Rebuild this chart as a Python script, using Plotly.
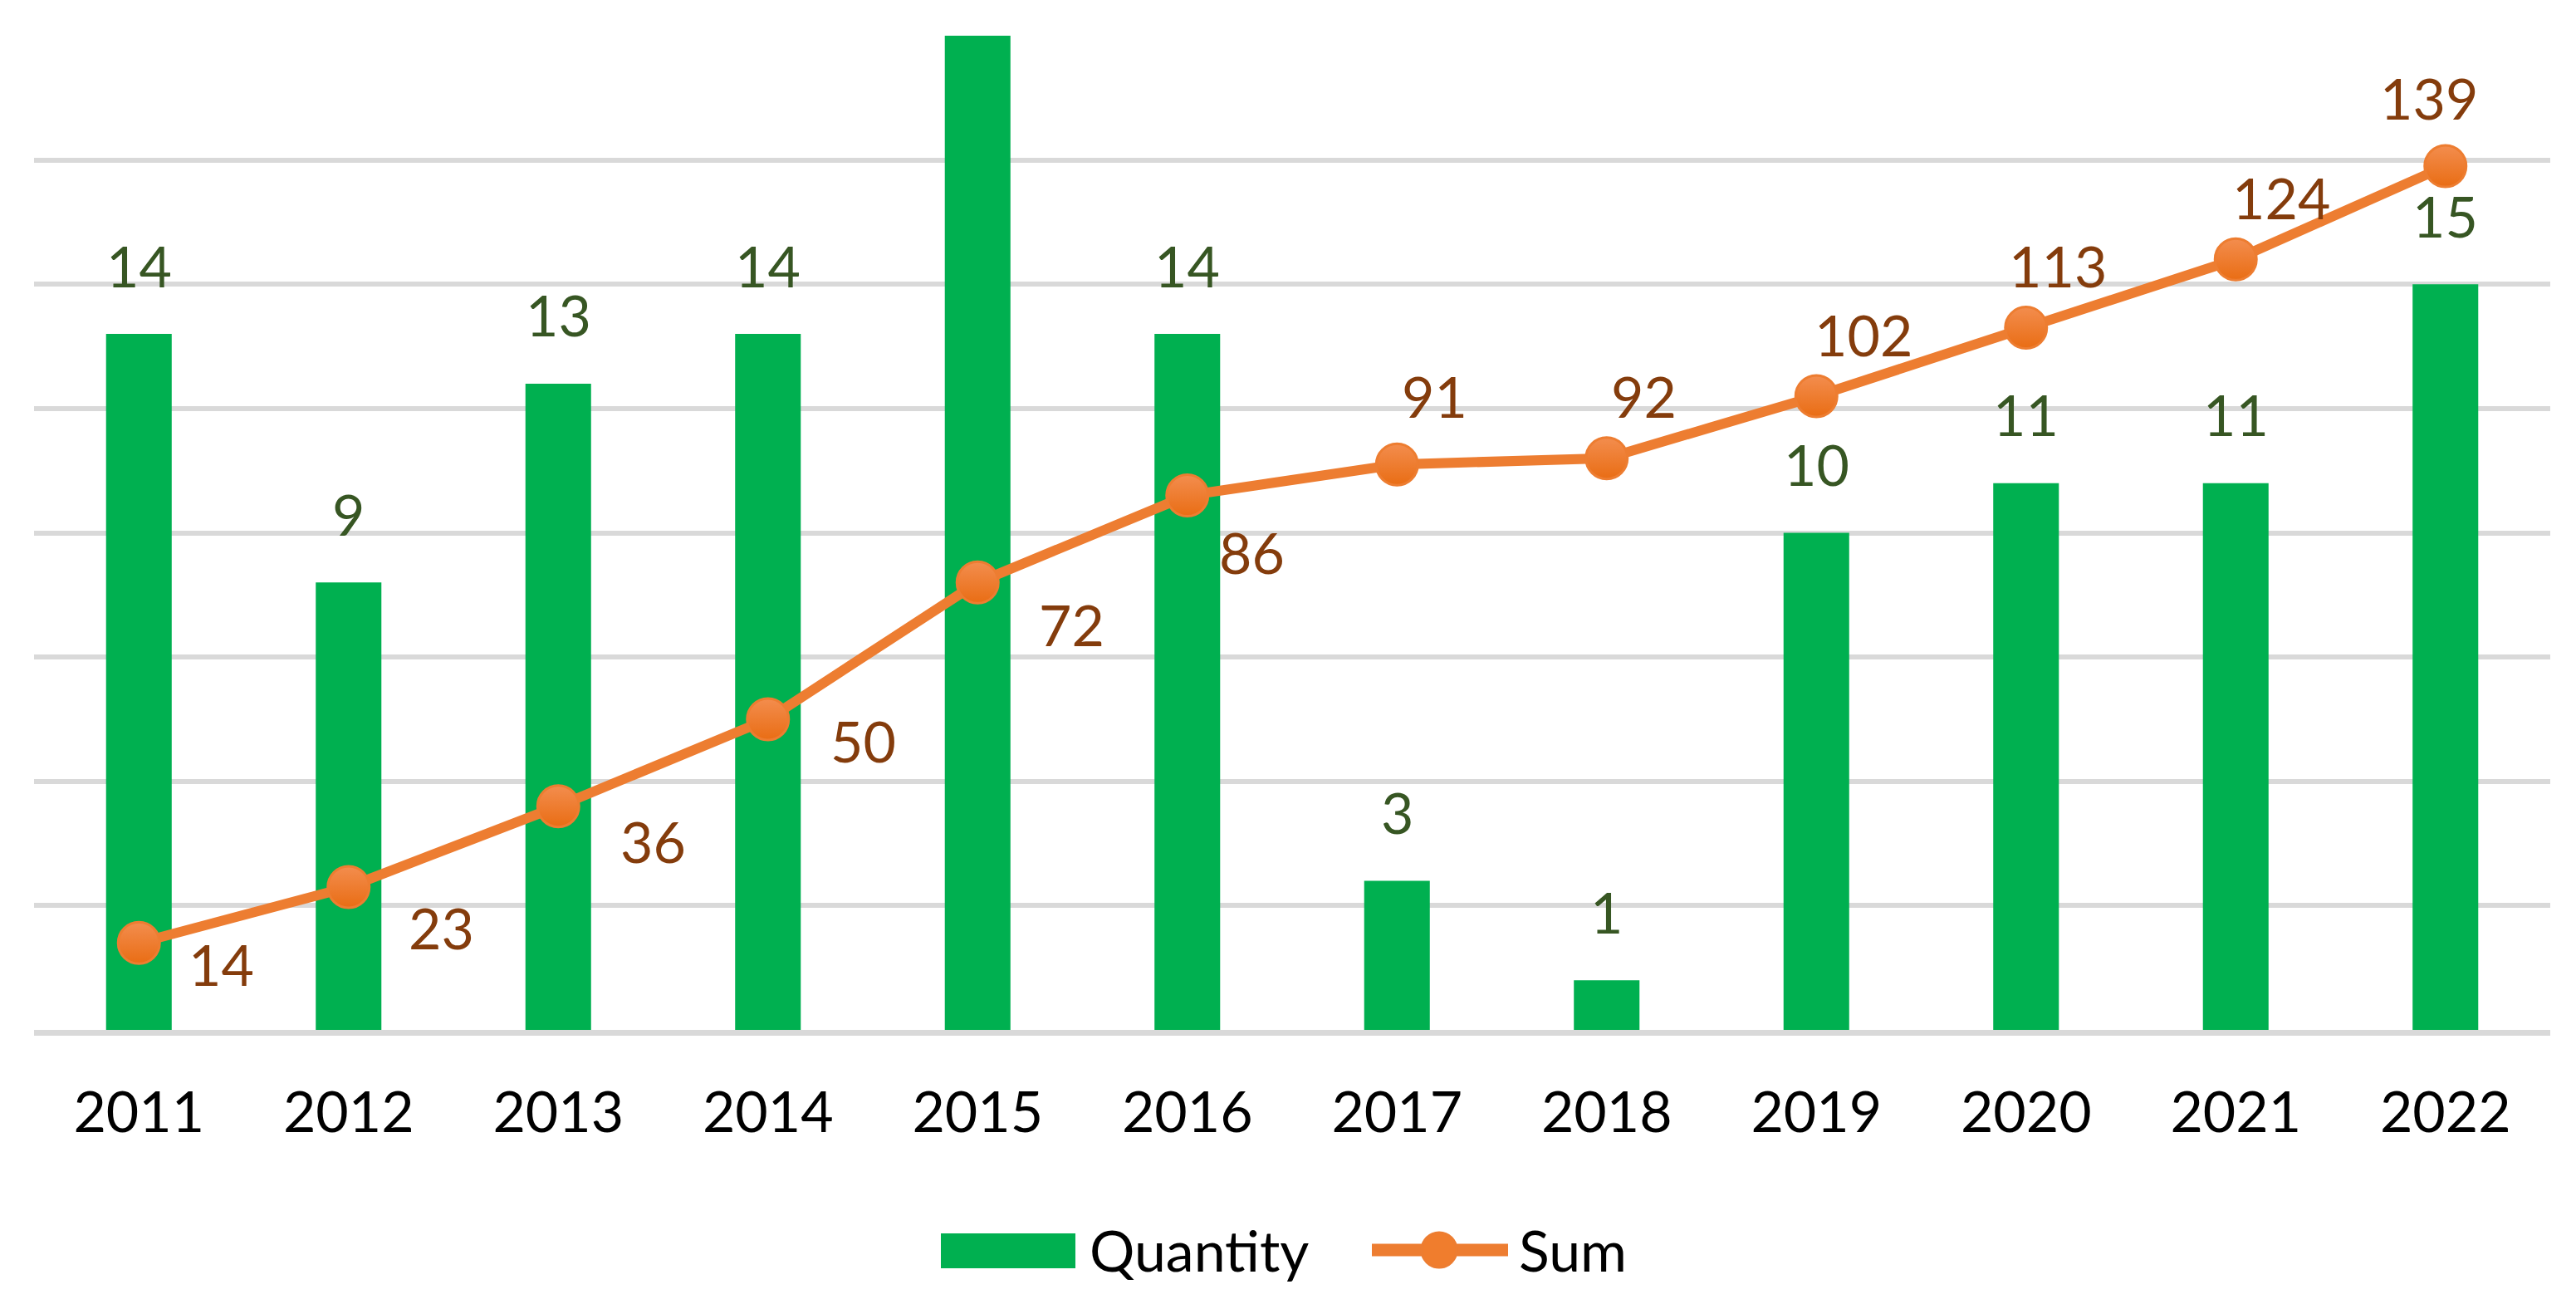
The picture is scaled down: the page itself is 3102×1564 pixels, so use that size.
import plotly.graph_objects as go

# ---------------- data ----------------
years = ["2011", "2012", "2013", "2014", "2015", "2016",
         "2017", "2018", "2019", "2020", "2021", "2022"]
quantity = [14, 9, 13, 14, 22, 14, 3, 1, 10, 11, 11, 15]
cumulative_sum = [14, 23, 36, 50, 72, 86, 91, 92, 102, 113, 124, 139]

# label placement offsets for the Sum labels (pixels: right, down)
sum_label_offsets = [(99, 27), (112, 51), (114, 44), (115, 28), (113, 52), (78, 70),
                     (45, -81), (45, -73), (57, -72), (38, -73), (55, -73), (-20, -81)]

# ---------------- style ----------------
FONT = "Lato, 'Noto Sans', sans-serif"
FS = 68
GREEN = "#00B050"
ORANGE = "#ED7D31"
GRID = "#D9D9D9"
QTY_MAX = 20
SUM_MAX = 160

W, H = 3102, 1564          # browser window
OFF = 8                    # default body margin of the page
PLOT_L, PLOT_R, PLOT_T, PLOT_B = 41, 3071, 43, 1240   # plot area in window pixels
FIG_W, FIG_H = W - 2 * OFF, H - 2 * OFF


def px_x(p):
    return (p - PLOT_L) / (PLOT_R - PLOT_L)


def px_y(p):
    return (PLOT_B - p) / (PLOT_B - PLOT_T)


fig = go.Figure()

fig.add_trace(go.Bar(
    x=years, y=quantity, name="Quantity",
    marker=dict(color=GREEN, line=dict(width=0)),
    yaxis="y", showlegend=False,
))

fig.add_trace(go.Scatter(
    x=years, y=cumulative_sum, name="Sum", yaxis="y2",
    mode="lines+markers",
    line=dict(color=ORANGE, width=12),
    marker=dict(size=50, color="#F38D4E",
                gradient=dict(type="vertical", color="#E96D14"),
                line=dict(color=ORANGE, width=3)),
    showlegend=False, cliponaxis=False,
))

annotations = []
for i, q in enumerate(quantity):
    if q <= QTY_MAX:
        annotations.append(dict(
            x=i, y=q, xref="x", yref="y", text=str(q), showarrow=False,
            xanchor="center", yanchor="middle", yshift=83,
            font=dict(family=FONT, size=FS, color="#375623"),
        ))
for i, (s, (dx, dy)) in enumerate(zip(cumulative_sum, sum_label_offsets)):
    annotations.append(dict(
        x=i, y=s, xref="x", yref="y2", text=str(s), showarrow=False,
        xanchor="center", yanchor="middle", xshift=dx, yshift=-dy + 2,
        font=dict(family=FONT, size=FS, color="#843C0C"),
    ))

# legend (drawn below the plot)
LEG_Y = 1504
annotations.append(dict(
    x=px_x(1310), y=px_y(LEG_Y), xref="paper", yref="paper", text="Quantity",
    showarrow=False, xanchor="left", yanchor="middle",
    font=dict(family=FONT, size=FS, color="#000000"),
))
annotations.append(dict(
    x=px_x(1827), y=px_y(LEG_Y), xref="paper", yref="paper", text="Sum",
    showarrow=False, xanchor="left", yanchor="middle",
    font=dict(family=FONT, size=FS, color="#000000"),
))

shapes = [
    dict(type="rect", xref="paper", yref="paper",
         x0=px_x(1133), x1=px_x(1295), y0=px_y(1527), y1=px_y(1485),
         fillcolor=GREEN, line=dict(width=0)),
    dict(type="line", xref="paper", yref="paper",
         x0=px_x(1652), x1=px_x(1816), y0=px_y(1505), y1=px_y(1505),
         line=dict(color=ORANGE, width=15)),
    dict(type="circle", xref="paper", yref="paper",
         x0=px_x(1712), x1=px_x(1754), y0=px_y(1526), y1=px_y(1484),
         fillcolor="#F07D2D", line=dict(color=ORANGE, width=3)),
]

fig.update_layout(
    width=FIG_W, height=FIG_H,
    margin=dict(l=PLOT_L - OFF, r=(W - OFF) - PLOT_R,
                t=PLOT_T - OFF, b=(H - OFF) - PLOT_B, pad=0),
    paper_bgcolor="white", plot_bgcolor="white",
    bargap=0.687,
    showlegend=False,
    font=dict(family=FONT, size=FS, color="#000000"),
    xaxis=dict(
        type="category", range=[-0.5, len(years) - 0.5], autorange=False,
        showgrid=False, zeroline=False,
        showline=True, linecolor=GRID, linewidth=7,
        ticks="", ticklabelstandoff=34,
        tickfont=dict(family=FONT, size=FS, color="#000000"),
        fixedrange=True,
    ),
    yaxis=dict(
        range=[0, QTY_MAX], dtick=2.5, showgrid=True, gridcolor=GRID, gridwidth=6,
        zeroline=False, showticklabels=False, ticks="", showline=False,
        fixedrange=True,
    ),
    yaxis2=dict(
        range=[0, SUM_MAX], overlaying="y", side="right",
        showgrid=False, zeroline=False, showticklabels=False, ticks="",
        showline=False, fixedrange=True,
    ),
    annotations=annotations,
    shapes=shapes,
)

fig.write_html("out.html")
